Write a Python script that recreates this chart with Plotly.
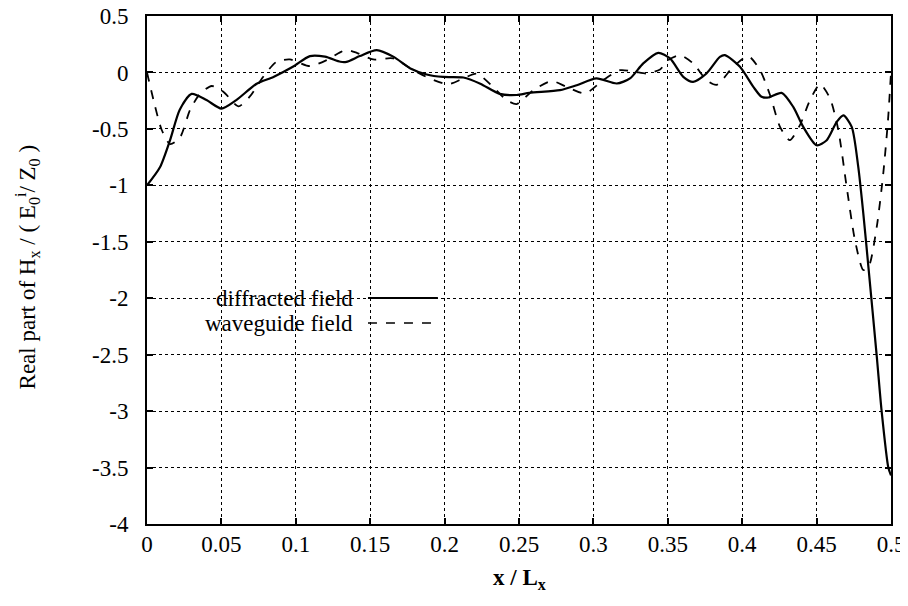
import plotly.graph_objects as go

# diffracted field (solid)
x_diff = [0, 0.0087, 0.0155, 0.022, 0.030, 0.040, 0.050, 0.060, 0.0737, 0.085, 0.098,
          0.1095, 0.1196, 0.13, 0.134, 0.143, 0.1544, 0.1655, 0.177, 0.188, 0.199, 0.2126,
          0.224, 0.237, 0.2485, 0.257, 0.2775, 0.2888, 0.302, 0.3157, 0.3246, 0.3335,
          0.3436, 0.3515, 0.3604, 0.367, 0.376, 0.385, 0.3884, 0.3985, 0.4075, 0.413,
          0.4176, 0.4265, 0.4343, 0.441, 0.450, 0.4568, 0.4635, 0.468, 0.4736, 0.478,
          0.4814, 0.4848, 0.4904, 0.4937, 0.4982, 0.5]
y_diff = [-1.0, -0.84, -0.60, -0.33, -0.19, -0.245, -0.32, -0.245, -0.10, -0.04, 0.05,
          0.145, 0.14, 0.095, 0.094, 0.145, 0.198, 0.14, 0.035, -0.018, -0.04, -0.045,
          -0.10, -0.19, -0.20, -0.18, -0.157, -0.113, -0.053, -0.098, -0.053, 0.08,
          0.174, 0.124, -0.039, -0.083, -0.009, 0.138, 0.153, 0.05, -0.128, -0.216,
          -0.222, -0.181, -0.305, -0.482, -0.645, -0.60, -0.438, -0.38, -0.482, -0.837,
          -1.25, -1.72, -2.51, -3.0, -3.50, -3.57]

# waveguide field (dashed)
x_wg = [0, 0.0054, 0.0099, 0.0155, 0.022, 0.029, 0.0356, 0.0435, 0.0513, 0.0614, 0.069,
        0.078, 0.087, 0.096, 0.1095, 0.1208, 0.13, 0.134, 0.141, 0.152, 0.1655, 0.179,
        0.190, 0.2025, 0.2126, 0.2215, 0.2327, 0.2417, 0.2485, 0.2596, 0.272, 0.282,
        0.2944, 0.3066, 0.318, 0.328, 0.3358, 0.3448, 0.3503, 0.3582, 0.367, 0.376,
        0.3828, 0.394, 0.404, 0.412, 0.4187, 0.4254, 0.432, 0.4388, 0.4456, 0.4523,
        0.459, 0.4646, 0.4702, 0.4758, 0.4814, 0.4850, 0.4904, 0.4948, 0.498, 0.5]
y_wg = [0.0, -0.30, -0.51, -0.635, -0.58, -0.33, -0.19, -0.12, -0.17, -0.30, -0.215,
        -0.04, 0.094, 0.115, 0.056, 0.11, 0.18, 0.2, 0.174, 0.115, 0.124, 0.02,
        -0.053, -0.104, -0.053, -0.01, -0.13, -0.245, -0.28, -0.157, -0.077, -0.128,
        -0.186, -0.068, 0.02, 0.005, -0.009, 0.027, 0.109, 0.153, 0.08, -0.068,
        -0.11, 0.05, 0.145, 0.02, -0.20, -0.482, -0.60, -0.467, -0.245, -0.104,
        -0.23, -0.51, -1.014, -1.487, -1.75, -1.72, -1.37, -0.895, -0.42, 0.0]

x_ticks = [0, 0.05, 0.1, 0.15, 0.2, 0.25, 0.3, 0.35, 0.4, 0.45, 0.5]
x_ticktext = ["0", "0.05", "0.1", "0.15", "0.2", "0.25", "0.3", "0.35", "0.4", "0.45", "0.5"]
y_ticks = [0.5, 0, -0.5, -1, -1.5, -2, -2.5, -3, -3.5, -4]
y_ticktext = ["0.5", "0", "-0.5", "-1", "-1.5", "-2", "-2.5", "-3", "-3.5", "-4"]

legend_names = ["diffracted field", "waveguide field"]

FONT = "Liberation Serif, Times New Roman, serif"

fig = go.Figure()
fig.add_trace(go.Scatter(x=x_diff, y=y_diff, mode="lines", name=legend_names[0],
                         line=dict(color="black", width=2.2, shape="spline", smoothing=0.7)))
fig.add_trace(go.Scatter(x=x_wg, y=y_wg, mode="lines", name=legend_names[1],
                         line=dict(color="black", width=1.8, dash="dash", shape="spline", smoothing=0.7)))

axis_common = dict(showline=True, linecolor="black", linewidth=2, mirror="ticks",
                   ticks="inside", ticklen=6, tickwidth=1.5, tickcolor="black",
                   showgrid=True, gridcolor="black", gridwidth=1, griddash="dot",
                   zeroline=False, automargin=False, ticklabeloverflow="allow",
                   tickfont=dict(family=FONT, size=23, color="black"))

fig.update_xaxes(range=[0, 0.5], tickvals=x_ticks, ticktext=x_ticktext,
                 ticklabelstandoff=-2, **axis_common)
fig.update_yaxes(range=[-4, 0.5], tickvals=y_ticks, ticktext=y_ticktext,
                 ticklabelstandoff=12, **axis_common)

# legend white box (hides gridlines)
fig.add_shape(type="rect", xref="paper", yref="paper", x0=0.004, x1=0.408,
              y0=(524 - 337) / 508, y1=(524 - 285) / 508,
              fillcolor="white", line=dict(width=0), layer="between")
leg_y = [(524 - 298) / 508, (524 - 323) / 508]
dashes = ["solid", "dash"]
widths = [2, 1.3]
for name, ly, d, w in zip(legend_names, leg_y, dashes, widths):
    fig.add_annotation(x=0.2796, y=ly, xref="paper", yref="paper", text=name,
                       showarrow=False, xanchor="right", yanchor="middle",
                       font=dict(family=FONT, size=23, color="black"))
    fig.add_shape(type="line", xref="paper", yref="paper", x0=0.297, x1=0.391,
                  y0=ly, y1=ly, line=dict(color="black", width=w, dash=d), layer="above")

# axis titles
fig.add_annotation(x=(27 - 147) / 744, y=0.505, xref="paper", yref="paper",
                   text="Real part of H<sub>x</sub> / ( E<sub>0</sub><sup>i</sup>/ Z<sub>0</sub> )",
                   textangle=-90, showarrow=False, xanchor="center", yanchor="middle",
                   font=dict(family=FONT, size=23, color="black"))
fig.add_annotation(x=0.5, y=(524 - 579) / 508, xref="paper", yref="paper",
                   text="<b>x / L<sub>x</sub></b>", showarrow=False,
                   xanchor="center", yanchor="middle",
                   font=dict(family=FONT, size=23, color="black"))

# page body adds an 8px offset, so the figure is 8px smaller on each side
fig.update_layout(width=900, height=598, showlegend=False,
                  paper_bgcolor="white", plot_bgcolor="white",
                  margin=dict(l=139, r=17, t=8, b=82, autoexpand=False))

fig.write_html("out.html")
